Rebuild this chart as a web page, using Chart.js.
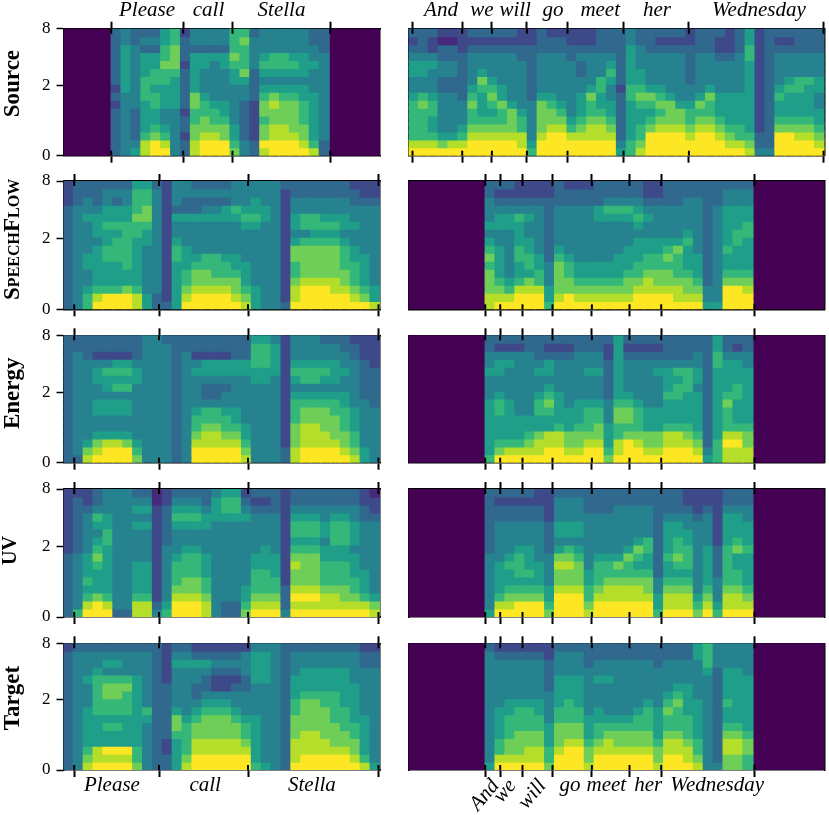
<!DOCTYPE html>
<html>
<head>
<meta charset="utf-8">
<script src="https://cdn.jsdelivr.net/npm/chart.js@4.4.1/dist/chart.umd.min.js"></script>
<style>
html, body { margin: 0; padding: 0; background: #fff; }
#wrap { position: relative; width: 829px; height: 815px; overflow: hidden; }
#wrap canvas { position: absolute; }
</style>
</head>
<body>
<div id="wrap"></div>
<script>
// ---- data ----
const rowNames = ['Source', 'SpeechFlow', 'Energy', 'UV', 'Target']
const yTickFrac = [0, 0.554, 1]      // position of 0, 2 and 8 kHz on the mel axis
const yTickText = ['0', '2', '8']
const nBins = 16

const leftFrames = 316.5
const rightFrames = 416

const leftWords = ['Please', 'call', 'Stella']
const rightWords = ['And', 'we', 'will', 'go', 'meet', 'her', 'Wednesday']

const sourceLeftBounds = [47.7, 119.7, 169, 266.7]
const sourceRightBounds = [4, 53.7, 83.4, 118.4, 159, 215, 280.4, 415]
const convLeftBounds = [10.7, 95.5, 184.5, 315]
const convRightBounds = [76.7, 91.7, 114, 144, 183.4, 221, 252.7, 346]

const sourceLeftWordAt = [83.5, 145, 218]
const sourceRightWordAt = [32.5, 73.4, 106.7, 144.5, 191.7, 248.4, 350.4]
const targetLeftWordAt = [48.4, 141.7, 248.4]
const targetRightWordAt = [87, 104, 134, 161.5, 197.8, 239.8, 308.7]

// part of the time axis covered by speech (the rest is padding)
const sourceLeftSpan = [47.7, 265.7]
const sourceRightSpan = [0, 416]
const convLeftSpan = [0, 316.5]
const convRightSpan = [76.7, 344.4]

// spectrogram columns, one string per time slice, mel bins bottom -> top, level 0..9
const sourceLeft = [
    '3333332323333333', '4444444455555544', '5433334444444433', '8865555666555343',
    '9976556656655343', '9865445556676655', '4444445555677766', '3323323333323332',
    '8877667755555344', '9987766544455344', '9987665444445344', '9977655444455344',
    '7655444445567666', '4433333445766676', '3322222333344443', '8977677654565444',
    '9988778754566444', '9988777654566444', '9987777654565444', '9877666554555444',
    '8655555544454433', '3344444444444333'
]
const sourceRight = [
    '9866666544554323', '9866667644554333', '9865566544454223', '9754444433443312',
    '9854444433443312', '9865444333333222', '9987667654444323', '9987655567544323',
    '9987656765444323', '9987667554444323', '9987775444444323', '9886654444443322',
    '6544444333333322', '9987777544444333', '9998776544444332', '9998765444444332',
    '9986544444443322', '9987655544334322', '9988766754444322', '9988765566444333',
    '9987655445654333', '5433333323333333', '6655555665555544', '8766556765544433',
    '9997656754444333', '9998767654444323', '9998777544444323', '9998775444444323',
    '9987665443333322', '9998767544444333', '9998766754444333', '9987655544443223',
    '9876555544443222', '9866555544444333', '8765555555556655', '4332222222222222',
    '4333333333333333', '9997655654444323', '9997655565444323', '9987655566444333',
    '9987655556444333', '9876554455444333'
]
const speechFlowLeft = [
    '3333333333333222', '4444444444444333', '6654455444454433', '9865555545554333',
    '9965556655655443', '9965556665655343', '9975566666655443', '8865555556676665',
    '5544444455677665', '3344444444444443', '3222222222222222', '5555556654453444',
    '9876655544453344', '9987765444453343', '9987766444454343', '9987666444454343',
    '9987665444455343', '9877655444456444', '8765554444565444', '5554444444565544',
    '4444444444455444', '4444444444444444', '3222222222222223', '9887667754554433',
    '9998777764664433', '9998777765664433', '9998777765654433', '9988777765654433',
    '9987766654554433', '9876665544544332', '9765555444444322', '8554444444444322'
]
const speechFlowRight = [
    '8877767654544433', '9876555544554323', '9865444444554323', '9986556655564322',
    '9987566554454322', '9986655444444322', '6554443333333322', '9877776544444333',
    '9977665444444332', '9876554444444332', '9876554444444332', '9876554444455333',
    '9876554444456433', '9876555444456433', '9877655544456433', '9987665554565433',
    '9988766554454322', '9987766554444322', '9987767654444333', '9887666754444333',
    '9877655565444433', '9876555444444433', '5443333333333333', '5444444444444333',
    '9997655655555443', '9997655566555443', '9987655556655443'
]
const energyLeft = [
    '3333333333333333', '3444444444444433', '8754444444444333', '9875445544554233',
    '9985445545564233', '9985445546565233', '9975445546565233', '7654444444554333',
    '4444444444444444', '4444444444444444', '4444444444444443', '3333333333333333',
    '4444444444444433', '9987665444454233', '9988766433455233', '9988766433455233',
    '9987665443455233', '9987655444455333', '8765544444455333', '4444444444556665',
    '4444444444556665', '4444444444455554', '3322222222222222', '8877766654565444',
    '9988877654665444', '9988877654665444', '9988777654565443', '9987776654555443',
    '9877666554454433', '8766555444444332', '5544444433333222', '4444444333332222'
]
const energyRight = [
    '6555555544454433', '9765556654455423', '9865555544445423', '9865554444444423',
    '9876554444444433', '9887556654454333', '9988556765455323', '9988655554444323',
    '9877555444444323', '9877655544444433', '9987666544454433', '9987766544454433',
    '7655544433333223', '9886677655555555', '9997677654444323', '9987666544444323',
    '9877555444444323', '9877555444454323', '9988655565554333', '9988655566564333',
    '9987655556664333', '9876555554554433', '5433333333333333', '6665555555556655',
    '8898666765555433', '8898655566555423', '8877655555554433'
]
const uvLeft = [
    '3333333322222222', '6444444433333332', '9865655544444322', '9975556765456433',
    '9865555556655444', '3444444444444444', '3444444444444444', '8865555444454543',
    '8865555444454543', '4322222222222211', '6544444443333322', '9987666544456543',
    '9987766654456543', '9987766654456543', '8876655544455433', '4444444444445554',
    '3344444444445665', '3344444444445665', '7655444444445432', '9876665544444323',
    '9876665554444323', '9876655544444333', '4333222222222222', '9898778765665433',
    '9898777765665433', '9898777765665433', '9887666554554433', '9887666556665433',
    '9877666556665433', '9876655545554433', '9865554444443322', '8754444444443221'
]
const uvRight = [
    '5444444433333333', '9865555444443323', '9876556544443323', '9976566654443323',
    '9976565554443323', '9976555444443322', '7655444433332222', '9998778754554443',
    '9998778764554443', '9998777654554443', '8766554444444333', '9987666544444333',
    '9988766544444333', '9988767544444433', '9988766754444433', '9988765675444433',
    '9987765566444433', '6554433333333333', '9887655655554333', '9887656766554333',
    '9887656665544322', '7654444444443222', '9876555554444322', '6544433332222222',
    '9887666665555433', '9887665576555433', '9876555565554433'
]
const targetLeft = [
    '3333333333333332', '4444444444444443', '8765555544454443', '9885555666665443',
    '9895565667764543', '9895565667764543', '9895555666764443', '7665555555554443',
    '4444445644444443', '3333333333333333', '3322333333322222', '5555677544444543',
    '8766665444444543', '9988776543344532', '9988777654334532', '9988777654223432',
    '9988777654223432', '9988776544323432', '9987665444334442', '6555555444455554',
    '5444444444455554', '4444444444444444', '3333333333333333', '9888777665554443',
    '9988877776555443', '9988877776555443', '9988777766555443', '9987776666555443',
    '9987766655555443', '9877665555544443', '8655555444444332', '5444444444444332'
]
const targetRight = [
    '5444444444444443', '9866555544444432', '9877666554444432', '9877766654444432',
    '9887766654444432', '9887766554444432', '7665554444333322', '9987776655554443',
    '9998776665554443', '9998776655554443', '8776555444444333', '9987665544454433',
    '9988765444454433', '9987765444444433', '9987765444444433', '9987766544444433',
    '9987766654444433', '8776555544444333', '9988766765444433', '9988766676544433',
    '9887666555544433', '8766555554444455', '4444444444445666', '4333333333333444',
    '7788765565555444', '7788765555555444', '6677655555554444'
]

// ---- style / layout ----
const viridis = ['#440154', '#482878', '#3e4989', '#31688e', '#26828e',
                 '#1f9e89', '#35b779', '#6ece58', '#b5de2b', '#fde725']
const serif = "'Liberation Serif', 'DejaVu Serif', serif"
const titleWeight = ['bold', 'small-caps bold', 'bold', 'bold', 'bold']
const titleSize = [23, 23, 23, 20, 23]
const titleLead = [3, 2, 2, 1, 3]     // leading spaces: nudges the row title upwards

const frameTop = [28.7, 181, 335.3, 489, 643.3]
const frameBottom = [155.7, 309.3, 462.7, 617, 770]
const frameLeft = [63.5, 408.5]
const frameRight = [380, 824.5]
const canvasLeft = [0, 404]
const canvasRight = [384, 829]

const panels = [
    {row: 0, side: 0, cols: sourceLeft, span: sourceLeftSpan, bounds: sourceLeftBounds, words: leftWords, wordAt: sourceLeftWordAt},
    {row: 0, side: 1, cols: sourceRight, span: sourceRightSpan, bounds: sourceRightBounds, words: rightWords, wordAt: sourceRightWordAt},
    {row: 1, side: 0, cols: speechFlowLeft, span: convLeftSpan, bounds: convLeftBounds},
    {row: 1, side: 1, cols: speechFlowRight, span: convRightSpan, bounds: convRightBounds},
    {row: 2, side: 0, cols: energyLeft, span: convLeftSpan, bounds: convLeftBounds},
    {row: 2, side: 1, cols: energyRight, span: convRightSpan, bounds: convRightBounds},
    {row: 3, side: 0, cols: uvLeft, span: convLeftSpan, bounds: convLeftBounds},
    {row: 3, side: 1, cols: uvRight, span: convRightSpan, bounds: convRightBounds},
    {row: 4, side: 0, cols: targetLeft, span: convLeftSpan, bounds: convLeftBounds, words: leftWords, wordAt: targetLeftWordAt},
    {row: 4, side: 1, cols: targetRight, span: convRightSpan, bounds: convRightBounds, words: rightWords, wordAt: targetRightWordAt, tilted: 3}
]

// tick marks that also reach into the plot (matplotlib "inout")
const inTicks = {
    id: 'inTicks',
    afterDraw(chart) {
        const {ctx, chartArea} = chart
        ctx.save()
        ctx.strokeStyle = '#000'
        ctx.lineWidth = 2
        ;[['xt', chartArea.top, 1], ['xb', chartArea.bottom, -1]].forEach(([id, y0, dir]) => {
            const s = chart.scales[id]
            s.ticks.forEach(t => {
                const x = s.getPixelForValue(t.value)
                ctx.beginPath()
                ctx.moveTo(x, y0)
                ctx.lineTo(x, y0 + dir * 5)
                ctx.stroke()
            })
        })
        ctx.restore()
    }
}

// force an axis to a given size and drop the label overflow padding
const sized = (key, v) => s => {
    s[key] = v
    s.paddingLeft = s.paddingRight = s.paddingTop = s.paddingBottom = 0
}

const wrap = document.getElementById('wrap')

function makePanel(p) {
    const W = p.side ? rightFrames : leftFrames
    const cTop = p.row === 0 ? 0 : Math.floor(frameTop[p.row]) - 18
    const cBot = p.row === 4 ? 815 : Math.ceil(frameBottom[p.row]) + 18
    const cL = canvasLeft[p.side], cR = canvasRight[p.side]
    const mt = frameTop[p.row] - cTop, mb = cBot - frameBottom[p.row]
    const ml = frameLeft[p.side] - cL, mr = cR - frameRight[p.side]

    const cv = document.createElement('canvas')
    cv.width = cR - cL
    cv.height = cBot - cTop
    cv.style.left = cL + 'px'
    cv.style.top = cTop + 'px'
    cv.style.width = (cR - cL) + 'px'
    cv.style.height = (cBot - cTop) + 'px'
    wrap.appendChild(cv)

    // cells: padding first, then every time slice x mel bin
    const cells = [], colors = []
    const [a, b] = p.span
    for (let r = 0; r < nBins; r++) {
        if (a > 0) { cells.push({x: [0, a], y: r + 0.5}); colors.push(viridis[0]) }
        if (b < W) { cells.push({x: [b, W], y: r + 0.5}); colors.push(viridis[0]) }
    }
    const cw = (b - a) / p.cols.length
    p.cols.forEach((col, c) => {
        for (let r = 0; r < nBins; r++) {
            cells.push({x: [a + c * cw, a + (c + 1) * cw], y: r + 0.5})
            colors.push(viridis[+col[r]])
        }
    })

    const border = {display: true, color: '#000', width: 1.5}
    const tickAxis = (pos, h) => ({
        type: 'linear', position: pos, min: 0, max: W, weight: 0, z: 1,
        afterBuildTicks: s => { s.ticks = p.bounds.map(v => ({value: v})) },
        afterFit: sized('height', h),
        ticks: {display: false, autoSkip: false},
        grid: {drawOnChartArea: false, drawTicks: true, tickLength: 7, tickWidth: 2, tickColor: '#000'},
        border: border
    })
    const wordAxis = (pos, h, idx, weight, rot, pad, mirror) => ({
        type: 'linear', position: pos, min: 0, max: W, weight: weight, z: 1,
        afterBuildTicks: s => { s.ticks = idx.map(i => ({value: p.wordAt[i]})) },
        afterFit: sized('height', h),
        ticks: {
            autoSkip: false, minRotation: rot, maxRotation: rot, padding: pad, mirror: !!mirror, color: '#000',
            font: {family: serif, size: 21, style: 'italic', lineHeight: 0.8},
            callback: (v, i) => p.words[idx[i]]
        },
        grid: {display: false, drawTicks: false},
        border: {display: false}
    })

    const scales = {
        x: {type: 'linear', display: false, min: 0, max: W},
        y: {
            type: 'linear', position: 'left', min: 0, max: nBins, offset: false, z: 1,
            afterBuildTicks: s => { s.ticks = yTickFrac.map(f => ({value: f * nBins})) },
            afterFit: sized('width', ml),
            ticks: {
                display: p.side === 0, autoSkip: false, padding: 6, color: '#000',
                font: {family: serif, size: 17},
                callback: (v, i) => yTickText[i]
            },
            grid: {drawOnChartArea: false, drawTicks: p.side === 0, tickLength: 7, tickWidth: 1.5, tickColor: '#000', offset: false},
            border: border,
            title: {
                display: p.side === 0, text: ' '.repeat(titleLead[p.row]) + rowNames[p.row], color: '#000', padding: 0,
                font: {family: serif, size: titleSize[p.row], weight: titleWeight[p.row], lineHeight: 1.1}
            }
        },
        yr: {
            type: 'linear', position: 'right', min: 0, max: 1, z: 1,
            afterFit: sized('width', mr),
            ticks: {display: false},
            grid: {drawOnChartArea: false, drawTicks: false},
            border: border
        },
        xt: tickAxis('top', p.row === 0 ? 7 : mt),
        xb: tickAxis('bottom', p.row === 4 ? 7 : mb)
    }
    if (p.row === 0) {
        scales.xw = wordAxis('top', mt - 7, p.words.map((w, i) => i), 1, 0, 3)
    }
    if (p.row === 4) {
        const idx = p.words.map((w, i) => i)
        const n = p.tilted || 0
        if (n) {
            scales.xr = wordAxis('bottom', mb - 7, idx.slice(0, n), 1, 50, 0)
            // flat words share the band of the tilted ones: zero-height axis at the bottom edge, mirrored upwards
            scales.xw = wordAxis('bottom', 0, idx.slice(n), 2, 0, 21, true)
        } else {
            scales.xw = wordAxis('bottom', mb - 7, idx, 1, 0, 0)
        }
    }

    new Chart(cv, {
        type: 'bar',
        data: {
            datasets: [{
                data: cells,
                backgroundColor: colors,
                borderWidth: 0,
                barPercentage: 1,
                categoryPercentage: 1,
                inflateAmount: 0.6,
                clip: 0
            }]
        },
        options: {
            indexAxis: 'y',
            responsive: false,
            animation: false,
            events: [],
            layout: {padding: 0, autoPadding: false},
            plugins: {legend: {display: false}, tooltip: {enabled: false}},
            scales: scales
        },
        plugins: [inTicks]
    })
}

panels.forEach(makePanel)
</script>
</body>
</html>
